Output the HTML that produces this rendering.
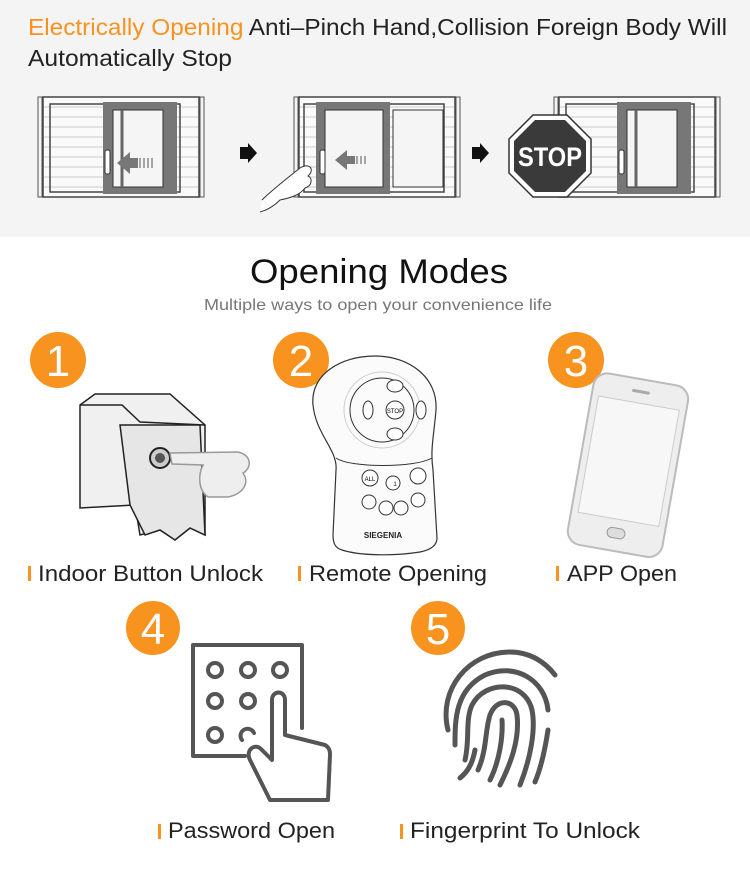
<!DOCTYPE html>
<html><head><meta charset="utf-8"><style>
body{margin:0;width:750px;height:876px;background:#fff;overflow:hidden;font-family:"Liberation Sans",sans-serif}
</style></head><body>
<svg width="750" height="876" viewBox="0 0 750 876" xmlns="http://www.w3.org/2000/svg" font-family="Liberation Sans, sans-serif">
<rect x="0" y="0" width="750" height="237" fill="#f4f4f4"/>
<text x="28" y="35" font-size="23" fill="#222" textLength="699" lengthAdjust="spacingAndGlyphs"><tspan fill="#f7931e">Electrically Opening</tspan> Anti–Pinch Hand,Collision Foreign Body Will</text>
<text x="28" y="66" font-size="23" fill="#222" textLength="204" lengthAdjust="spacingAndGlyphs">Automatically Stop</text>

<defs>
<g id="win">
<rect x="0" y="0" width="4" height="100" fill="none" stroke="#555" stroke-width="1"/>
<rect x="5" y="0" width="156" height="100" fill="#fafafa" stroke="#444" stroke-width="1.5"/>
<g stroke="#ccc" stroke-width="1">
<line x1="6" y1="10" x2="160" y2="10"/><line x1="6" y1="20" x2="160" y2="20"/><line x1="6" y1="30" x2="160" y2="30"/><line x1="6" y1="40" x2="160" y2="40"/><line x1="6" y1="50" x2="160" y2="50"/><line x1="6" y1="60" x2="160" y2="60"/><line x1="6" y1="70" x2="160" y2="70"/><line x1="6" y1="80" x2="160" y2="80"/><line x1="6" y1="90" x2="160" y2="90"/>
</g>
<rect x="162" y="0" width="4" height="100" fill="none" stroke="#555" stroke-width="1"/>
</g>
</defs>

<use href="#win" x="38" y="97"/>
<rect x="50" y="104" width="130" height="88" fill="none" stroke="#444" stroke-width="1.5"/>
<rect x="103" y="102" width="74" height="92" fill="#777"/>
<rect x="113" y="110" width="50" height="77" fill="#f5f5f5" stroke="#333"/>
<line x1="122" y1="110" x2="122" y2="187" stroke="#666" stroke-width="3"/>
<rect x="105" y="150" width="5" height="24" rx="2" fill="#fff" stroke="#333"/>
<polygon points="117,163 130,152 130,158 138,158 138,168 130,168 130,174" fill="#777"/>
<g stroke="#888" stroke-width="1.5"><line x1="140" y1="158" x2="140" y2="168"/><line x1="144" y1="158" x2="144" y2="168"/><line x1="148" y1="158" x2="148" y2="168"/><line x1="152" y1="158" x2="152" y2="168"/></g>

<polygon points="240,147 248,147 248,143 257,153 248,163 248,159 240,159" fill="#111"/>

<use href="#win" x="294" y="97"/>
<rect x="304" y="104" width="140" height="88" fill="none" stroke="#444" stroke-width="1.5"/>
<rect x="316" y="102" width="74" height="92" fill="#777"/>
<rect x="325" y="110" width="58" height="77" fill="#f5f5f5" stroke="#333"/>
<rect x="393" y="110" width="50" height="77" fill="#f5f5f5" stroke="#333"/>
<rect x="320" y="150" width="5" height="24" rx="2" fill="#fff" stroke="#333"/>
<polygon points="335,160 347,150 347,156 355,156 355,164 347,164 347,170" fill="#777"/>
<g stroke="#888" stroke-width="1.5"><line x1="357" y1="156" x2="357" y2="164"/><line x1="361" y1="156" x2="361" y2="164"/><line x1="365" y1="156" x2="365" y2="164"/></g>
<path d="M262,200 C272,190 285,180 300,168 C310,162 315,170 308,176 C313,178 312,186 305,188 C300,195 290,198 280,200 C275,205 268,210 260,212" fill="#fff" stroke="#333" stroke-width="1"/>

<polygon points="472,147 480,147 480,143 489,153 480,163 480,159 472,159" fill="#111"/>

<use href="#win" x="554" y="97"/>
<rect x="566" y="104" width="128" height="88" fill="none" stroke="#444" stroke-width="1.5"/>
<rect x="617" y="102" width="74" height="92" fill="#777"/>
<rect x="627" y="110" width="50" height="77" fill="#f5f5f5" stroke="#333"/>
<line x1="636" y1="110" x2="636" y2="187" stroke="#666" stroke-width="3"/>
<rect x="619" y="150" width="5" height="24" rx="2" fill="#fff" stroke="#333"/>
<polygon points="533,115 567,115 591,139 591,173 567,197 533,197 509,173 509,139" fill="#fff" stroke="#333" stroke-width="1.5"/>
<polygon points="535,120 565,120 586,141 586,171 565,192 535,192 514,171 514,141" fill="#3a3a3a"/>
<text x="550" y="166" font-size="27" font-weight="bold" fill="#fff" text-anchor="middle" textLength="64" lengthAdjust="spacingAndGlyphs">STOP</text>

<text x="379" y="283" font-size="34" fill="#111" text-anchor="middle" textLength="258" lengthAdjust="spacingAndGlyphs">Opening Modes</text>
<text x="378" y="310" font-size="16" fill="#777" text-anchor="middle" textLength="348" lengthAdjust="spacingAndGlyphs">Multiple ways to open your convenience life</text>

<g fill="#f7931e"><circle cx="58" cy="360" r="28"/><circle cx="301" cy="360" r="28"/><circle cx="576" cy="360" r="28"/><circle cx="153" cy="628" r="27"/><circle cx="438" cy="628" r="27"/></g>
<g fill="#fff" font-size="44" text-anchor="middle"><text x="58" y="376">1</text><text x="301" y="376">2</text><text x="576" y="376">3</text><text x="153" y="644">4</text><text x="438" y="644">5</text></g>

<!-- indoor button -->
<g stroke="#222" stroke-width="1.5" fill="#f0f0f0">
<path d="M80,405 L95,394 L170,394 L205,425 L205,535 L190,528 L175,540 L160,530 L140,535 L135,505 L80,508 Z"/>
<path d="M80,405 L122,405 L140,422 L205,425" fill="none"/>
<path d="M120,425 L200,425 L205,535 L190,528 L175,540 L160,530 L145,535 L130,505 Z" fill="#e6e6e6"/>
</g>
<circle cx="160" cy="458" r="10" fill="#ccc" stroke="#222" stroke-width="2"/>
<circle cx="160" cy="458" r="5" fill="#555"/>
<path d="M170,453 L238,452 C252,455 252,468 243,473 C250,483 243,494 228,497 L208,497 C198,490 198,475 203,465 L172,464 Z" fill="#eee" stroke="#999" stroke-width="1.5"/>

<!-- remote -->
<path d="M313,405 C310,375 340,356 375,356 C410,356 438,378 436,410 C434,435 430,450 433,470 L437,538 C437,546 430,550 420,552 C395,556 360,556 342,550 C335,548 333,543 333,535 L336,470 C338,450 316,435 313,405 Z" fill="#fbfbfb" stroke="#333" stroke-width="1.2"/>
<path d="M336,458 C350,468 415,468 432,458" fill="none" stroke="#333" stroke-width="1"/>
<circle cx="382" cy="410" r="38" fill="none" stroke="#ccc"/>
<circle cx="382" cy="410" r="32" fill="none" stroke="#333"/>
<g fill="#fff" stroke="#333"><ellipse cx="395" cy="386" rx="8" ry="6"/><ellipse cx="395" cy="434" rx="8" ry="6"/><ellipse cx="368" cy="410" rx="5" ry="9"/><ellipse cx="421" cy="410" rx="5" ry="9"/><circle cx="395" cy="410" r="9"/>
<circle cx="370" cy="478" r="8"/><circle cx="393" cy="483" r="7"/><circle cx="418" cy="476" r="8"/><circle cx="369" cy="502" r="7"/><circle cx="386" cy="508" r="7"/><circle cx="401" cy="508" r="7"/><circle cx="418" cy="500" r="7"/></g>
<text x="395" y="413" font-size="6" text-anchor="middle">STOP</text>
<text x="370" y="481" font-size="6" text-anchor="middle">ALL</text>
<text x="395" y="486" font-size="6" text-anchor="middle">1</text>
<text x="383" y="538" font-size="8" font-weight="bold" text-anchor="middle" fill="#222">SIEGENIA</text>

<!-- phone -->
<g transform="rotate(10 627 465)">
<rect x="580" y="378" width="96" height="174" rx="14" fill="#eee" stroke="#bbb" stroke-width="2"/>
<rect x="587" y="402" width="82" height="118" fill="#f7f7f7" stroke="#ccc"/>
<rect x="619" y="389" width="18" height="3" rx="1.5" fill="#aaa"/>
<rect x="619" y="529" width="18" height="10" rx="5" fill="#ddd" stroke="#999"/>
</g>

<g fill="#f7931e"><rect x="28" y="566" width="3" height="15"/><rect x="298" y="566" width="3" height="15"/><rect x="556" y="566" width="3" height="15"/><rect x="158" y="824" width="3" height="15"/><rect x="400" y="824" width="3" height="15"/></g>
<g font-size="22" fill="#222">
<text x="38" y="581" textLength="225" lengthAdjust="spacingAndGlyphs">Indoor Button Unlock</text>
<text x="309" y="581" textLength="178" lengthAdjust="spacingAndGlyphs">Remote Opening</text>
<text x="567" y="581" textLength="110" lengthAdjust="spacingAndGlyphs">APP Open</text>
<text x="168" y="838" textLength="167" lengthAdjust="spacingAndGlyphs">Password Open</text>
<text x="410" y="838" textLength="230" lengthAdjust="spacingAndGlyphs">Fingerprint To Unlock</text></g>

<!-- keypad -->
<g fill="none" stroke="#555" stroke-width="4" stroke-linecap="round" stroke-linejoin="round">
<path d="M245,756 L193,756 L193,645 L302,645 L302,728"/>
<circle cx="215" cy="670" r="7"/><circle cx="248" cy="670" r="7"/><circle cx="280" cy="670" r="7"/>
<circle cx="215" cy="701" r="7"/><circle cx="248" cy="701" r="7"/>
<circle cx="215" cy="735" r="7"/><path d="M242,740 A7,7 0 1 1 254,733"/>
<path d="M272,760 L272,700 C272,690 285,690 285,700 L285,735 L325,745 C330,748 330,752 330,755 L328,800 L270,800 L250,760 C245,750 255,742 262,750 Z" fill="#fff"/>
</g>

<!-- fingerprint -->
<g fill="none" stroke="#555" stroke-width="5" stroke-linecap="round">
<path d="M448,730 C438,690 468,652 510,652 C530,652 545,662 555,675"/>
<path d="M455,745 C455,720 455,690 485,675 C515,662 545,680 548,710"/>
<path d="M465,760 C470,740 465,720 472,705 C485,680 525,680 532,710 C536,730 530,760 520,785"/>
<path d="M478,770 C487,750 485,730 490,715 C497,697 515,700 517,715 C520,740 510,765 500,785"/>
<path d="M490,780 C500,760 503,735 502,720"/>
<path d="M460,778 C470,770 473,760 475,750"/>
<path d="M548,730 C545,750 540,770 535,782"/>
</g>
</svg>
</body></html>
